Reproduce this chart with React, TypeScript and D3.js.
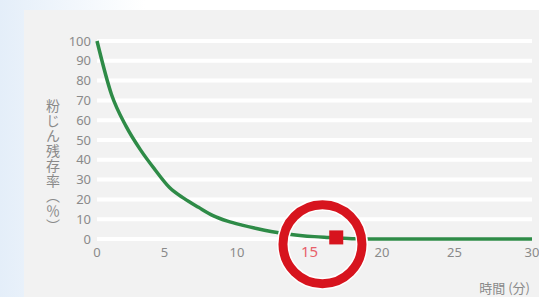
import React from "react";
import * as d3 from "d3";

const minutes = [0, 1, 2, 3, 4, 5, 6, 7, 8, 9, 10, 11, 12, 13, 14, 15, 16, 17, 18, 19, 20, 22, 24, 26, 28, 30];
const dustRemaining = [100, 73, 57, 45, 35, 26, 20.5, 16, 11.8, 9, 7, 5.3, 3.8, 2.6, 1.8, 1.2, 0.8, 0.4, 0.1, 0, 0, 0, 0, 0, 0, 0];
const xTicks = [0, 5, 10, 15, 20, 25, 30];
const yTicks = [0, 10, 20, 30, 40, 50, 60, 70, 80, 90, 100];
const highlightTick = 15;
const marker = { t: 16.5, value: 0.8 };
const yTitle = "粉じん残存率（％）";
const xTitle = "時間 (分)";

const W = 539;
const H = 297;
const margin = { top: 41, right: 7, bottom: 58, left: 97 };

const numFont = "'Noto Sans', 'Open Sans', sans-serif";
const jpFont = "'Noto Sans CJK JP', sans-serif";

export default function App() {
  const x = d3
    .scaleLinear()
    .domain([0, 30])
    .range([margin.left, W - margin.right]);
  const y = d3
    .scaleLinear()
    .domain([0, 100])
    .range([H - margin.bottom, margin.top]);

  const line = d3
    .line<number>()
    .x((_, i) => x(minutes[i]))
    .y((d) => y(d))
    .curve(d3.curveMonotoneX);

  // highlight ring around the 15 min label
  const cx = x(15.55);
  const cy = y(-2.6);

  return (
    <svg width={W} height={H} style={{ position: "fixed", left: 0, top: 0 }}>
      <defs>
        <linearGradient id="bg" x1="0" x2="1" y1="0" y2="0">
          <stop offset="0%" stopColor="#e4eef9" />
          <stop offset="100%" stopColor="#ffffff" />
        </linearGradient>
      </defs>
      <rect x={0} y={0} width={W} height={H} fill="#ffffff" />
      <rect x={0} y={0} width={145} height={H} fill="url(#bg)" />
      <rect x={24} y={10} width={W - 24} height={H - 10} fill="#f2f2f2" />

      {yTicks.map((t) => (
        <g key={t}>
          <line
            x1={x(0)}
            x2={x(30)}
            y1={y(t)}
            y2={y(t)}
            stroke="#ffffff"
            strokeWidth={4}
          />
          <text
            x={91}
            y={y(t)}
            dy="0.35em"
            textAnchor="end"
            fontFamily={numFont}
            fontSize={13}
            fill="#8a8a8a"
          >
            {t}
          </text>
        </g>
      ))}

      {xTicks.map((t) => (
        <text
          key={t}
          x={x(t)}
          dx={t === 0 || t === 30 ? 0 : -5}
          y={252}
          dy="0.35em"
          textAnchor="middle"
          fontFamily={numFont}
          fontSize={t === highlightTick ? 15 : 13}
          fill={t === highlightTick ? "#e8606a" : "#8a8a8a"}
        >
          {t}
        </text>
      ))}

      <path
        d={line(dustRemaining) || ""}
        fill="none"
        stroke="#2e8b47"
        strokeWidth={3.5}
        strokeLinejoin="round"
      />

      <circle cx={cx} cy={cy} r={39.5} fill="none" stroke="#ffffff" strokeWidth={12} />
      <circle cx={cx} cy={cy} r={39.5} fill="none" stroke="#d7141e" strokeWidth={9} />
      <rect
        x={x(marker.t) - 7}
        y={y(marker.value) - 7}
        width={14}
        height={14}
        fill="#d7141e"
      />

      <text
        x={53}
        y={99}
        fontFamily={jpFont}
        fontSize={14}
        fill="#8a8a8a"
        letterSpacing={1}
        style={{ writingMode: "vertical-rl" } as React.CSSProperties}
      >
        {yTitle}
      </text>
      <text
        x={530}
        y={293}
        textAnchor="end"
        fontFamily={jpFont}
        fontSize={13}
        fill="#8a8a8a"
      >
        {xTitle}
      </text>
    </svg>
  );
}
